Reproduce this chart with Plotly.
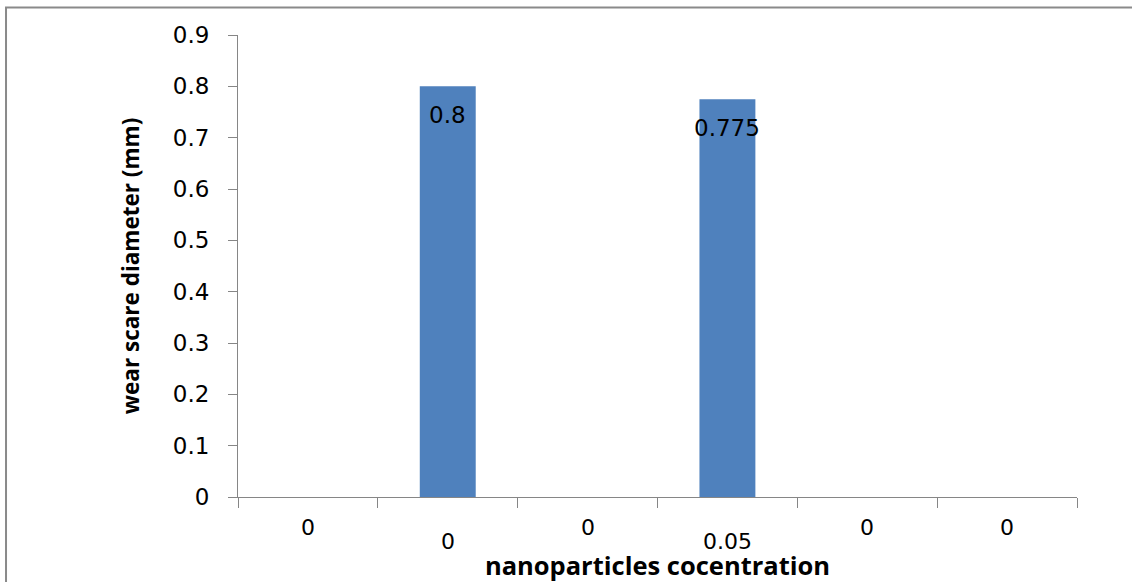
import plotly.graph_objects as go

# Data
categories = ["0", "0", "0", "0.05", "0", "0"]
wear_diameter = [0, 0.8, 0, 0.775, 0, 0]
y_ticks = [0, 0.1, 0.2, 0.3, 0.4, 0.5, 0.6, 0.7, 0.8, 0.9]
label_row = [0, 1, 0, 1, 0, 0]  # staggered category label rows

positions = list(range(len(categories)))
bar_color = "#4F81BD"
axis_color = "#868686"
num_font = "DejaVu Sans"
title_font = "Open Sans"

fig = go.Figure()
fig.add_trace(go.Bar(
    x=positions,
    y=wear_diameter,
    width=0.4,
    marker=dict(color=bar_color, line=dict(width=0)),
    showlegend=False,
    hoverinfo="x+y",
))

annotations = []
# value labels for non-zero bars
for p, v in zip(positions, wear_diameter):
    if v:
        annotations.append(dict(
            x=p, y=v, xref="x", yref="y", text=f"{v:g}",
            showarrow=False, yanchor="middle", yshift=-29,
            font=dict(family=num_font, size=23, color="#000000"),
        ))
# category labels, staggered in two rows
for p, c, r in zip(positions, categories, label_row):
    annotations.append(dict(
        x=p, y=0, xref="x", yref="paper", text=c,
        showarrow=False, yanchor="middle", yshift=-30 - 14 * r,
        font=dict(family=num_font, size=22, color="#000000"),
    ))

fig.update_layout(
    width=1132, height=582,
    margin=dict(l=238, r=55, t=35, b=85),
    paper_bgcolor="white", plot_bgcolor="white",
    annotations=annotations,
    xaxis=dict(
        range=[-0.5, len(categories) - 0.5],
        tickmode="array",
        tickvals=[i - 0.5 for i in range(len(categories) + 1)],
        showticklabels=False,
        ticks="outside", ticklen=10, tickcolor=axis_color, tickwidth=1,
        showline=True, linecolor=axis_color, linewidth=1,
        showgrid=False, zeroline=False, automargin=False,
        title=dict(text="<b>nanoparticles cocentration</b>",
                   font=dict(family=title_font, size=25.5, color="#000000"),
                   standoff=53),
    ),
    yaxis=dict(
        range=[0, 0.9],
        tickmode="array", tickvals=y_ticks,
        ticktext=[f"{t:g}" for t in y_ticks],
        ticks="outside", ticklen=9, tickcolor=axis_color, tickwidth=1,
        ticklabelstandoff=14,
        tickfont=dict(family=num_font, size=23, color="#000000"),
        showline=True, linecolor=axis_color, linewidth=1,
        showgrid=False, zeroline=False, automargin=False,
        title=dict(text="<b>wear scare diameter (mm)</b>",
                   font=dict(family=title_font, size=22.5, color="#000000"),
                   standoff=26),
    ),
    shapes=[
        # outer chart frame (left and top edges visible)
        dict(type="rect", xref="paper", yref="paper",
             x0=-0.2765, x1=1.2, y0=-0.3, y1=1.0595,
             line=dict(color="#8a8a8a", width=2), layer="below"),
    ],
)

fig.write_html("out.html")
